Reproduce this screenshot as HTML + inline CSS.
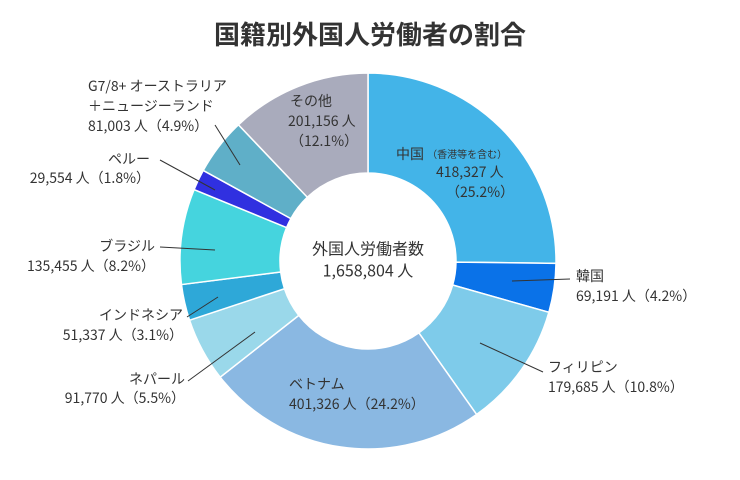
<!DOCTYPE html>
<html><head><meta charset="utf-8"><style>
body{margin:0;background:#fff;}
svg{display:block;font-family:"Liberation Sans","Noto Sans CJK JP",sans-serif;}
text{fill:#333;}
</style></head><body>
<svg id="s" width="740" height="480" viewBox="0 0 740 480">
<text x="370" y="37" text-anchor="middle" dominant-baseline="middle" font-size="26" font-weight="bold" style="font-family:'Noto Sans CJK JP',sans-serif">国籍別外国人労働者の割合</text>
<g id="pie"></g>
<g font-size="14" dominant-baseline="middle" style="font-family:'Noto Sans CJK JP',sans-serif">
<text x="396" y="155">中国 <tspan font-size="10">（香港等を含む）</tspan></text>
<text x="436" y="173">418,327 人</text>
<text x="446" y="193">（25.2%）</text>
<text x="368" y="250" text-anchor="middle" font-size="16">外国人労働者数</text>
<text x="368" y="272" text-anchor="middle" font-size="16">1,658,804 人</text>
<text x="576" y="277">韓国</text>
<text x="576" y="297">69,191 人（4.2%）</text>
<text x="548" y="368">フィリピン</text>
<text x="548" y="388">179,685 人（10.8%）</text>
<text x="289" y="385">ベトナム</text>
<text x="289" y="405">401,326 人（24.2%）</text>
<text x="185" y="380" text-anchor="end">ネパール</text>
<text x="185" y="399" text-anchor="end">91,770 人（5.5%）</text>
<text x="183" y="316" text-anchor="end">インドネシア</text>
<text x="183" y="336" text-anchor="end">51,337 人（3.1%）</text>
<text x="155" y="247" text-anchor="end">ブラジル</text>
<text x="155" y="267" text-anchor="end">135,455 人（8.2%）</text>
<text x="150" y="160" text-anchor="end">ペルー</text>
<text x="150" y="179" text-anchor="end">29,554 人（1.8%）</text>
<text x="88" y="87">G7/8+ オーストラリア</text>
<text x="88" y="107">＋ニュージーランド</text>
<text x="88" y="127">81,003 人（4.9%）</text>
<text x="290" y="102">その他</text>
<text x="288" y="122">201,156 人</text>
<text x="290" y="142">（12.1%）</text>
</g>
<g stroke="#333" stroke-width="1">
<line x1="512" y1="281" x2="570" y2="279"/>
<line x1="480" y1="343" x2="543" y2="372"/>
<line x1="188" y1="381" x2="255" y2="332"/>
<line x1="187" y1="317" x2="218" y2="297"/>
<line x1="160" y1="247" x2="215" y2="250"/>
<line x1="160" y1="160" x2="215" y2="190"/>
<line x1="215" y1="125" x2="240" y2="165"/>
</g>
</svg>
<script>
var d=[[25.2,"#43b4e8"],[4.2,"#0a72e8"],[10.8,"#7ecbea"],[24.2,"#8ab8e2"],[5.5,"#9ad8ea"],[3.1,"#2ea8d8"],[8.2,"#45d4de"],[1.8,"#3030e0"],[4.9,"#5fafc8"],[12.1,"#a9abbc"]];
var cx=368,cy=261,R=188,r=88,a=0,h="";
function p(ang,rad){var t=(ang-90)*Math.PI/180;return (cx+rad*Math.cos(t)).toFixed(2)+" "+(cy+rad*Math.sin(t)).toFixed(2);}
d.forEach(function(e){var b=a+e[0]*3.6,l=(b-a)>180?1:0;
h+='<path d="M'+p(a,R)+' A'+R+' '+R+' 0 '+l+' 1 '+p(b,R)+' L'+p(b,r)+' A'+r+' '+r+' 0 '+l+' 0 '+p(a,r)+'Z" fill="'+e[1]+'" stroke="#fff" stroke-width="1.5"/>';a=b;});
document.getElementById("pie").innerHTML=h;
</script>
</body></html>
